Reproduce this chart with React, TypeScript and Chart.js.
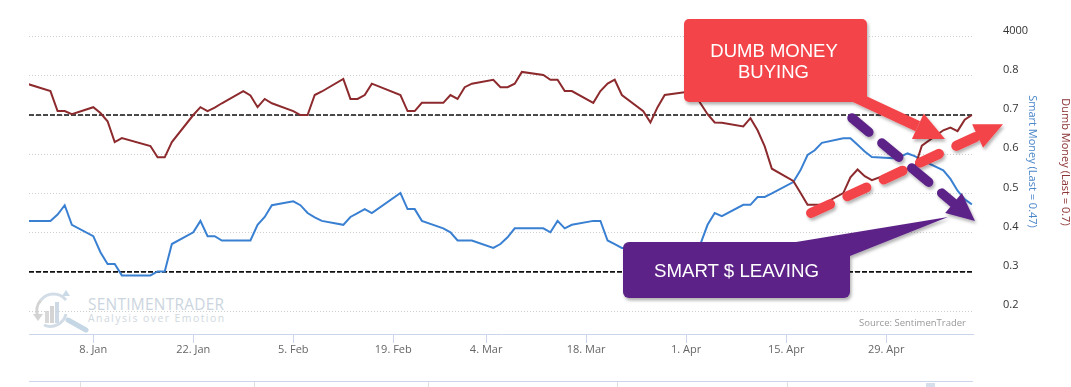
import React, { useEffect, useRef } from "react";
import { Chart, registerables } from "chart.js";
Chart.register(...registerables);

// ---------- data ----------
const dates = [
  "2017-12-29",
  "2018-01-02", "2018-01-03", "2018-01-04", "2018-01-05",
  "2018-01-08", "2018-01-09", "2018-01-10", "2018-01-11", "2018-01-12",
  "2018-01-16", "2018-01-17", "2018-01-18", "2018-01-19",
  "2018-01-22", "2018-01-23", "2018-01-24", "2018-01-25", "2018-01-26",
  "2018-01-29", "2018-01-30", "2018-01-31", "2018-02-01", "2018-02-02",
  "2018-02-05", "2018-02-06", "2018-02-07", "2018-02-08", "2018-02-09",
  "2018-02-12", "2018-02-13", "2018-02-14", "2018-02-15", "2018-02-16",
  "2018-02-20", "2018-02-21", "2018-02-22", "2018-02-23",
  "2018-02-26", "2018-02-27", "2018-02-28", "2018-03-01", "2018-03-02",
  "2018-03-05", "2018-03-06", "2018-03-07", "2018-03-08", "2018-03-09",
  "2018-03-12", "2018-03-13", "2018-03-14", "2018-03-15", "2018-03-16",
  "2018-03-19", "2018-03-20", "2018-03-21", "2018-03-22", "2018-03-23",
  "2018-03-26", "2018-03-27", "2018-03-28", "2018-03-29",
  "2018-04-02", "2018-04-03", "2018-04-04", "2018-04-05", "2018-04-06",
  "2018-04-09", "2018-04-10", "2018-04-11", "2018-04-12", "2018-04-13",
  "2018-04-16", "2018-04-17", "2018-04-18", "2018-04-19", "2018-04-20",
  "2018-04-23", "2018-04-24", "2018-04-25", "2018-04-26", "2018-04-27",
  "2018-04-30", "2018-05-01", "2018-05-02", "2018-05-03", "2018-05-04",
  "2018-05-07", "2018-05-08", "2018-05-09", "2018-05-10", "2018-05-11",
];

const dumbMoney = [
  0.784,
  0.761, 0.710, 0.710, 0.702,
  0.720, 0.705, 0.684, 0.631, 0.641,
  0.621, 0.592, 0.592, 0.631,
  0.700, 0.720, 0.710, 0.719, 0.730,
  0.761, 0.750, 0.720, 0.741, 0.730,
  0.710, 0.700, 0.700, 0.751, 0.760,
  0.792, 0.741, 0.741, 0.751, 0.780,
  0.751, 0.710, 0.710, 0.731,
  0.731, 0.751, 0.741, 0.771, 0.780,
  0.790, 0.771, 0.771, 0.780, 0.810,
  0.802, 0.790, 0.790, 0.761, 0.761,
  0.731, 0.761, 0.780, 0.790, 0.751,
  0.710, 0.681, 0.720, 0.751,
  0.761, 0.730, 0.702, 0.681, 0.680,
  0.671, 0.692, 0.661, 0.620, 0.563,
  0.532, 0.502, 0.471, 0.471, 0.471,
  0.501, 0.541, 0.561, 0.544, 0.534,
  0.554, 0.559, 0.563, 0.566, 0.622,
  0.661, 0.668, 0.659, 0.688, 0.700,
];

const smartMoney = [
  0.430,
  0.430, 0.446, 0.470, 0.420,
  0.391, 0.350, 0.320, 0.320, 0.291,
  0.291, 0.301, 0.301, 0.371,
  0.401, 0.430, 0.391, 0.391, 0.380,
  0.380, 0.380, 0.420, 0.440, 0.470,
  0.480, 0.470, 0.450, 0.439, 0.430,
  0.420, 0.440, 0.450, 0.460, 0.450,
  0.501, 0.460, 0.460, 0.430,
  0.411, 0.401, 0.380, 0.380, 0.380,
  0.361, 0.371, 0.388, 0.411, 0.411,
  0.411, 0.401, 0.430, 0.411, 0.420,
  0.430, 0.430, 0.380, 0.371, 0.361,
  0.361, 0.371, 0.371, 0.361,
  0.361, 0.371, 0.420, 0.450, 0.442,
  0.471, 0.471, 0.491, 0.491, 0.500,
  0.529, 0.559, 0.598, 0.610, 0.629,
  0.641, 0.641, 0.624, 0.607, 0.593,
  0.590, 0.594, 0.602, 0.595, 0.585,
  0.559, 0.537, 0.507, 0.485, 0.472,
];

const tickDates = [
  "2018-01-08", "2018-01-22", "2018-02-05", "2018-02-19", "2018-03-04",
  "2018-03-18", "2018-04-01", "2018-04-15", "2018-04-29",
];
const tickLabels = [
  "8. Jan", "22. Jan", "5. Feb", "19. Feb", "4. Mar",
  "18. Mar", "1. Apr", "15. Apr", "29. Apr",
];
const yTicks = [0.2, 0.3, 0.4, 0.5, 0.6, 0.7, 0.8, 0.9];
const yTickLabels = ["0.2", "0.3", "0.4", "0.5", "0.6", "0.7", "0.8", "4000"];
const thresholds = [0.7, 0.3];
const axisStart = "2017-12-30";
const axisEnd = "2018-05-11";
const yRange = [0.1415, 0.9];

const DAY = 86400000;
const base = Date.parse(tickDates[0] + "T00:00:00Z");
const dayOf = (s: string) => (Date.parse(s + "T00:00:00Z") - base) / DAY;
const xMin = dayOf(axisStart);
const xMax = dayOf(axisEnd) + 0.16;

// ---------- annotation helpers ----------
type P = [number, number];
function arrow(S: P, T: P, headLen: number, halfW: number) {
  const dx = T[0] - S[0], dy = T[1] - S[1];
  const L = Math.hypot(dx, dy);
  const ux = dx / L, uy = dy / L;
  const nx = -uy, ny = ux;
  const bx = T[0] - ux * headLen, by = T[1] - uy * headLen;
  const head = `${T[0]},${T[1]} ${bx + nx * halfW},${by + ny * halfW} ${bx - nx * halfW},${by - ny * halfW}`;
  return { bx, by, head };
}

const redSolid = arrow([838, 89], [945, 139], 30, 14);
const redDash = arrow([811, 213], [1003, 124.3], 28, 13);
const purpleDash = arrow([852, 118], [975, 221], 28, 13);

const RED = "#f3454a";
const PURPLE = "#5d2487";

export default function App() {
  const ref = useRef<HTMLCanvasElement>(null);

  useEffect(() => {
    document.body.style.margin = "0";
    const ctx = ref.current!;
    const pts = (vals: number[]) => vals.map((v, i) => ({ x: dayOf(dates[i]), y: v }));
    const chart = new Chart(ctx, {
      type: "line",
      data: {
        datasets: [
          {
            label: "Dumb Money",
            data: pts(dumbMoney),
            borderColor: "#8c2a2d",
            borderWidth: 2,
            pointRadius: 0,
            tension: 0,
          },
          {
            label: "Smart Money",
            data: pts(smartMoney),
            borderColor: "#3a80d2",
            borderWidth: 2,
            pointRadius: 0,
            tension: 0,
          },
          ...thresholds.map((t) => ({
            label: "threshold " + t,
            data: [
              { x: xMin, y: t },
              { x: xMax, y: t },
            ],
            borderColor: "#111111",
            borderWidth: 1.6,
            borderDash: [5, 2],
            pointRadius: 0,
          })),
        ],
      },
      options: {
        responsive: false,
        maintainAspectRatio: false,
        animation: false,
        devicePixelRatio: 1,
        layout: { padding: { left: 29, top: 23, right: 0, bottom: 0 } },
        plugins: { legend: { display: false }, tooltip: { enabled: false } },
        font: { family: "'Open Sans', sans-serif" },
        scales: {
          x: {
            type: "linear",
            min: xMin,
            max: xMax,
            afterBuildTicks: (s: any) => {
              s.ticks = tickDates.map((d) => ({ value: dayOf(d) }));
            },
            afterFit: (s: any) => {
              s.height = 53;
            },
            grid: {
              drawOnChartArea: false,
              drawTicks: true,
              tickLength: 9,
              color: "#ccd6eb",
            },
            border: { color: "#ccd6eb", width: 1 },
            ticks: {
              autoSkip: false,
              maxRotation: 0,
              padding: 0,
              color: "#666666",
              font: { family: "'Open Sans', sans-serif", size: 11 },
              callback: (v: any) => {
                const i = tickDates.findIndex((d) => Math.abs(dayOf(d) - Number(v)) < 1e-6);
                return i >= 0 ? tickLabels[i] : "";
              },
            },
          },
          y: {
            type: "linear",
            position: "right",
            min: yRange[0],
            max: yRange[1],
            afterBuildTicks: (s: any) => {
              s.ticks = yTicks.map((v) => ({ value: v }));
            },
            afterFit: (s: any) => {
              s.width = 98;
            },
            grid: { color: "#cfcfcf", lineWidth: 1, drawTicks: false },
            border: { display: false, dash: [1, 2] },
            ticks: {
              padding: 30,
              labelOffset: -6,
              color: "#333333",
              font: { family: "'Open Sans', sans-serif", size: 11 },
              callback: (v: any) => {
                const i = yTicks.findIndex((t) => Math.abs(t - Number(v)) < 1e-6);
                return i >= 0 ? yTickLabels[i] : "";
              },
            },
          },
        },
      } as any,
    });
    return () => chart.destroy();
  }, []);

  return (
    <div style={{ position: "relative", width: 1071, height: 387, background: "#ffffff", overflow: "hidden" }}>
      {/* watermark behind the chart */}
      <svg width={1071} height={387} style={{ position: "absolute", left: 0, top: 0 }}>
        <g opacity={0.9}>
          <path d="M 41 300 A 16 16 0 0 1 66 300" fill="none" stroke="#cdd9e4" strokeWidth={3} />
          <path d="M 38 317 A 16 16 0 0 1 41 300" fill="none" stroke="#cfcfcf" strokeWidth={3} />
          <polygon points="33,314 43,314 38,321" fill="#cfcfcf" />
          <polygon points="62,296 70,296 66,290" fill="#c5d6e5" />
          <rect x={45} y={311} width={4} height={12} fill="#d4d4d4" />
          <rect x={50} y={306} width={4} height={17} fill="#d0d0d0" />
          <rect x={55} y={302} width={4} height={21} fill="#c8d7e4" />
          <path d="M 66 314 A 16 16 0 0 1 44 325" fill="none" stroke="#cdd9e4" strokeWidth={3} />
          <line x1={68} y1={320} x2={86} y2={330} stroke="#bfd2e2" strokeWidth={5} strokeLinecap="round" />
          <text x={88} y={310} fontFamily="'Open Sans', sans-serif" fontSize={15.4} fill="#c6d1dc" textLength={136} lengthAdjust="spacing">
            SENTIMENTRADER
          </text>
          <text x={88} y={321.7} fontFamily="'Open Sans', sans-serif" fontSize={10.4} fill="#ccd4dc" textLength={136} lengthAdjust="spacing">
            Analysis over Emotion
          </text>
        </g>
      </svg>
      <canvas ref={ref} width={1071} height={387} style={{ position: "absolute", left: 0, top: 0 }} />
      <svg width={1071} height={387} style={{ position: "absolute", left: 0, top: 0, pointerEvents: "none" }}>
        <defs>
          <filter id="sh" x="-30%" y="-30%" width="160%" height="160%">
            <feDropShadow dx={1.5} dy={2.5} stdDeviation={1.6} floodColor="#000" floodOpacity={0.3} />
          </filter>
        </defs>

        {/* axis titles */}
        <text
          transform="translate(1033,161.5) rotate(90)"
          textAnchor="middle"
          dominantBaseline="central"
          fontFamily="'Open Sans', sans-serif"
          fontSize={11}
          fill="#4a86c8"
        >
          Smart Money (Last = 0.47)
        </text>
        <text
          transform="translate(1066,162) rotate(90)"
          textAnchor="middle"
          dominantBaseline="central"
          fontFamily="'Open Sans', sans-serif"
          fontSize={11}
          fill="#8b3232"
        >
          Dumb Money (Last = 0.7)
        </text>

        {/* credits */}
        <text x={966} y={326} textAnchor="end" fontFamily="'Open Sans', sans-serif" fontSize={9.5} fill="#999999">
          Source: SentimenTrader
        </text>

        {/* navigator stub */}
        <line x1={29} y1={381.5} x2={973} y2={381.5} stroke="#ccd6eb" strokeWidth={1} />
        {[80, 254, 428, 617, 787].map((x) => (
          <line key={x} x1={x + 0.5} y1={382} x2={x + 0.5} y2={387} stroke="#e0e0e0" strokeWidth={1} />
        ))}
        <rect x={926} y={383} width={9} height={4} fill="#d8dfec" />

        {/* red dashed arrow */}
        <g filter="url(#sh)">
          <line
            x1={811}
            y1={213}
            x2={redDash.bx}
            y2={redDash.by}
            stroke={RED}
            strokeWidth={10}
            strokeDasharray="21 19"
            strokeLinecap="round"
          />
          <polygon points={redDash.head} fill={RED} />
        </g>

        {/* purple dashed arrow */}
        <g filter="url(#sh)">
          <line
            x1={852}
            y1={118}
            x2={purpleDash.bx}
            y2={purpleDash.by}
            stroke={PURPLE}
            strokeWidth={9.5}
            strokeDasharray="22 17"
            strokeLinecap="round"
          />
          <polygon points={purpleDash.head} fill={PURPLE} />
        </g>

        {/* red solid arrow + box */}
        <g filter="url(#sh)">
          <line x1={838} y1={89} x2={redSolid.bx} y2={redSolid.by} stroke={RED} strokeWidth={11} />
          <polygon points={redSolid.head} fill={RED} />
          <rect x={684} y={19} width={183} height={83} rx={5} fill={RED} />
        </g>
        <text x={774} y={56.5} textAnchor="middle" fontFamily="'Liberation Sans', Arial, sans-serif" fontSize={18.5} fill="#ffffff">
          DUMB MONEY
        </text>
        <text x={773.5} y={77.5} textAnchor="middle" fontFamily="'Liberation Sans', Arial, sans-serif" fontSize={18.5} fill="#ffffff">
          BUYING
        </text>

        {/* purple callout */}
        <g filter="url(#sh)">
          <polygon points="790,243 948,217 850,256" fill={PURPLE} />
          <rect x={623} y={242} width={227} height={56} rx={6} fill={PURPLE} />
        </g>
        <text x={736.5} y={277} textAnchor="middle" fontFamily="'Liberation Sans', Arial, sans-serif" fontSize={18.7} fill="#ffffff">
          SMART $ LEAVING
        </text>
      </svg>
    </div>
  );
}
